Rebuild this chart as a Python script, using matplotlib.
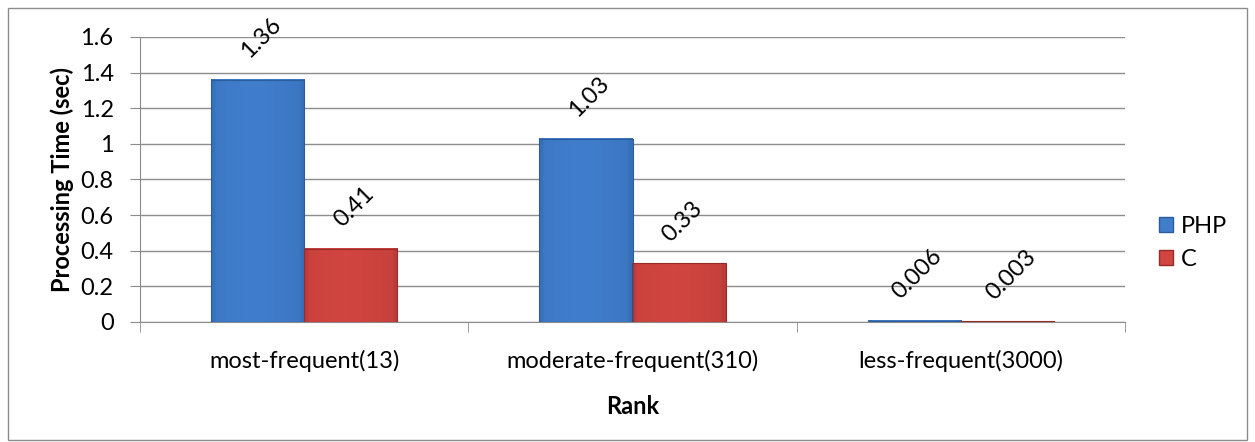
import matplotlib.pyplot as plt
import numpy as np
from matplotlib.patches import Rectangle, Patch

# data
categories = ["most-frequent(13)", "moderate-frequent(310)", "less-frequent(3000)"]
php_times = [1.36, 1.03, 0.006]
c_times = [0.41, 0.33, 0.003]
php_labels = ["1.36", "1.03", "0.006"]
c_labels = ["0.41", "0.33", "0.003"]
y_ticks = [0, 0.2, 0.4, 0.6, 0.8, 1, 1.2, 1.4, 1.6]
y_tick_labels = ["0", "0.2", "0.4", "0.6", "0.8", "1", "1.2", "1.4", "1.6"]

plt.rcParams['font.family'] = ['Lato', 'DejaVu Sans']
FS = 17

fig = plt.figure(figsize=(12.55, 4.42), dpi=100)
ax = fig.add_axes([140 / 1255, 1 - 322 / 442, (1125 - 140) / 1255, (322 - 37) / 442])

# border around the whole chart
fig.patches.append(Rectangle((8 / 1255, 0.005), 1 - 16 / 1255, 1 - 8 / 442 - 0.005,
                             transform=fig.transFigure, fill=False,
                             edgecolor='#8c8c8c', linewidth=1))

x = np.arange(len(categories))
bar_w = 0.284


def shaded_bar(xc, h, base, dark, light):
    # horizontal shading to mimic the bevelled office bar
    if h <= 0:
        return
    t = np.linspace(0, 1, 64)
    prof = 1 - 0.45 * np.abs(t - 0.45) ** 1.5
    prof[:3] *= 0.8
    prof[-3:] *= 0.8
    cols = np.array(dark)[None, :] + (np.array(light) - np.array(dark))[None, :] * prof[:, None]
    img = np.clip(cols[None, :, :], 0, 1)
    ax.imshow(img, extent=(xc - bar_w / 2, xc + bar_w / 2, 0, h),
              aspect='auto', zorder=3, interpolation='bilinear')
    ax.add_patch(Rectangle((xc - bar_w / 2, 0), bar_w, h, fill=False,
                           edgecolor=base, linewidth=0.8, zorder=4))


php_dark = (0.15, 0.33, 0.58)
php_light = (0.25, 0.49, 0.80)
c_dark = (0.58, 0.16, 0.15)
c_light = (0.82, 0.27, 0.25)

for i in range(len(categories)):
    shaded_bar(x[i] - bar_w / 2, php_times[i], '#2c5d9a', php_dark, php_light)
    shaded_bar(x[i] + bar_w / 2, c_times[i], '#962b29', c_dark, c_light)
    ax.text(x[i] - bar_w / 2 + 0.01, php_times[i] + 0.1, php_labels[i], rotation=45,
            ha='center', va='bottom', fontsize=FS, zorder=5)
    ax.text(x[i] + bar_w / 2 + 0.01, c_times[i] + 0.1, c_labels[i], rotation=45,
            ha='center', va='bottom', fontsize=FS, zorder=5)

ax.set_xlim(-0.5, len(categories) - 0.5)
ax.set_ylim(0, 1.6)
ax.set_yticks(y_ticks)
ax.set_yticklabels(y_tick_labels, fontsize=FS)
ax.set_xticks(x)
ax.set_xticklabels(categories, fontsize=FS)
ax.tick_params(axis='x', length=0, pad=20)
ax.tick_params(axis='y', length=7, color='#8c8c8c', pad=12)
ax.set_xticks(np.arange(len(categories) + 1) - 0.5, minor=True)
ax.tick_params(axis='x', which='minor', length=7, color='#8c8c8c')

ax.yaxis.grid(True, color='#8c8c8c', linewidth=1)
ax.set_axisbelow(True)
for s in ['top', 'right']:
    ax.spines[s].set_visible(False)
ax.spines['left'].set_color('#8c8c8c')
ax.spines['bottom'].set_color('#8c8c8c')

ax.set_ylabel('Processing Time (sec)', fontsize=FS, fontweight='bold', labelpad=5)
ax.set_xlabel('Rank', fontsize=FS, fontweight='bold', labelpad=17)

# legend
handles = [Patch(facecolor=php_light, edgecolor='#2c5d9a', label='PHP'),
           Patch(facecolor=c_light, edgecolor='#962b29', label='C')]
fig.legend(handles=handles, loc='center left', bbox_to_anchor=(1138 / 1255, 1 - 243 / 442),
           frameon=False, fontsize=FS, handlelength=0.6, handleheight=0.6,
           handletextpad=0.3, labelspacing=0.5)

fig.savefig('out.png', dpi=100)
